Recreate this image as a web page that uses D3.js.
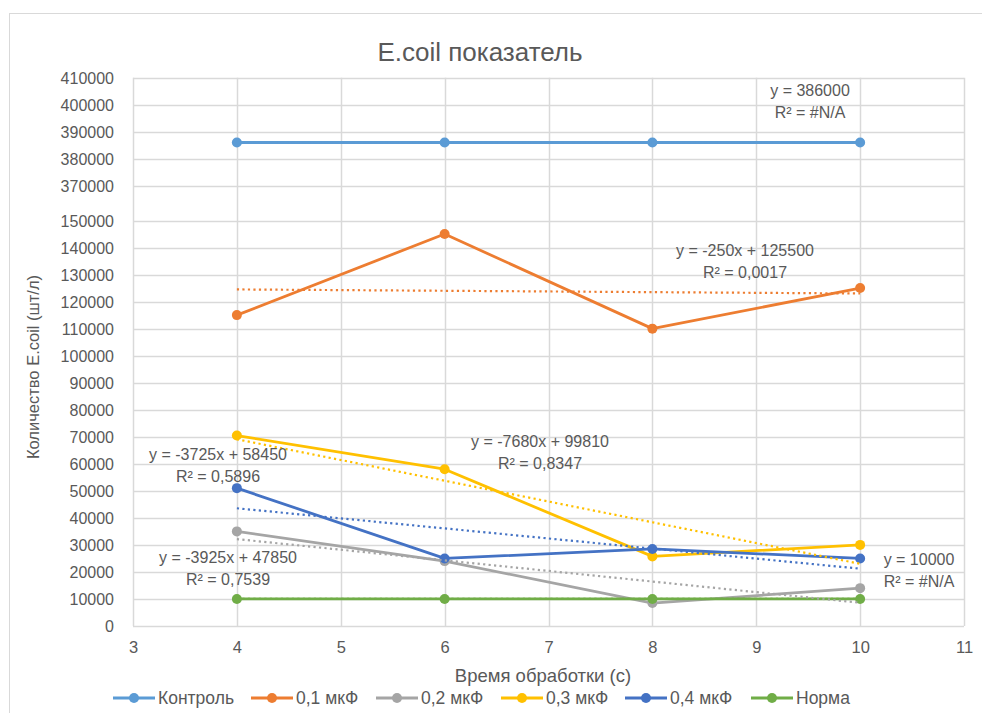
<!DOCTYPE html>
<html><head><meta charset="utf-8">
<script src="https://cdn.jsdelivr.net/npm/d3@7"></script>
<style>
html,body{margin:0;padding:0;background:#fff;}
svg{display:block;}
text{font-family:"Liberation Sans",Arial,sans-serif;fill:#595959;}
</style></head>
<body>
<svg id="chart" width="982" height="713"></svg>
<script>
// ---- data ----
const xValues = [4, 6, 8, 10];
const seriesNames = ["Контроль", "0,1 мкФ", "0,2 мкФ", "0,3 мкФ", "0,4 мкФ", "Норма"];
const kontrol = [386000, 386000, 386000, 386000];
const mkf01 = [115000, 145000, 110000, 125000];
const mkf02 = [35000, 24000, 8500, 14000];
const mkf03 = [70450, 58000, 25750, 30000];
const mkf04 = [51000, 25000, 28500, 25000];
const norma = [10000, 10000, 10000, 10000];
const seriesValues = [kontrol, mkf01, mkf02, mkf03, mkf04, norma];
const seriesColors = ["#5B9BD5", "#ED7D31", "#A5A5A5", "#FFC000", "#4472C4", "#70AD47"];
const trendSlope = [0, -250, -3925, -7680, -3725, 0];
const trendIntercept = [386000, 125500, 47850, 99810, 58450, 10000];
const trendEq = ["y = 386000", "y = -250x + 125500", "y = -3925x + 47850", "y = -7680x + 99810", "y = -3725x + 58450", "y = 10000"];
const trendR2 = ["R² = #N/A", "R² = 0,0017", "R² = 0,7539", "R² = 0,8347", "R² = 0,5896", "R² = #N/A"];
const xTicks = [3, 4, 5, 6, 7, 8, 9, 10, 11];
const yTicks = [0, 10000, 20000, 30000, 40000, 50000, 60000, 70000, 80000, 90000, 100000, 110000, 120000, 130000, 140000, 150000, 370000, 380000, 390000, 400000, 410000];
const title = "E.coil показатель";
const xTitle = "Время обработки (с)";
const yTitle = "Количество E.coil (шт/л)";

// ---- layout ----
const plot = {left: 133, right: 964, top: 77.7, bottom: 626};
const labelPos = [[810, 90], [745, 250], [228, 557], [540, 441], [218, 454], [919, 559]];
const legendX = [113, 251, 376, 501, 625, 751];

const svg = d3.select("#chart");
svg.append("rect").attr("x", 9.5).attr("y", 13.5).attr("width", 990).attr("height", 720)
  .attr("fill", "#fff").attr("stroke", "#d9d9d9").attr("stroke-width", 1);

const x = d3.scaleLinear().domain([3, 11]).range([plot.left, plot.right]);
const y = d3.scaleLinear().domain([0, 150000, 370000, 410000]).range([plot.bottom, 220.5, 185.7, plot.top]);

// grid
const g = svg.append("g");
g.selectAll(".hg").data(yTicks).join("line")
  .attr("x1", plot.left).attr("x2", plot.right)
  .attr("y1", d => Math.round(y(d)) + 0.5).attr("y2", d => Math.round(y(d)) + 0.5)
  .attr("stroke", "#d9d9d9").attr("stroke-width", 1.5);
g.selectAll(".vg").data(xTicks).join("line")
  .attr("y1", plot.top).attr("y2", plot.bottom)
  .attr("x1", d => Math.round(x(d)) + 0.5).attr("x2", d => Math.round(x(d)) + 0.5)
  .attr("stroke", "#d9d9d9").attr("stroke-width", 1.5);

// axes (labels only, via d3 axis)
const yAxis = svg.append("g").attr("transform", `translate(${plot.left - 19},0)`)
  .call(d3.axisLeft(y).tickValues(yTicks).tickSize(0).tickPadding(0).tickFormat(d3.format("d")));
yAxis.select(".domain").remove();
yAxis.selectAll("text").style("font-size", "16px").attr("fill", "#595959").attr("dy", "0.36em");

const xAxis = svg.append("g").attr("transform", `translate(0,${plot.bottom + 15})`)
  .call(d3.axisBottom(x).tickValues(xTicks).tickSize(0).tickPadding(0).tickFormat(d3.format("d")));
xAxis.select(".domain").remove();
xAxis.selectAll("text").style("font-size", "16.5px").attr("fill", "#595959").attr("dy", "0.71em");

// series
const line = d3.line().x((d, i) => x(xValues[i])).y(d => y(d));
seriesValues.forEach((vals, s) => {
  svg.append("path").datum(vals).attr("d", line)
    .attr("fill", "none").attr("stroke", seriesColors[s]).attr("stroke-width", 2.8)
    .attr("stroke-linejoin", "round");
  svg.selectAll(null).data(vals).join("circle")
    .attr("cx", (d, i) => x(xValues[i])).attr("cy", d => y(d)).attr("r", 5)
    .attr("fill", seriesColors[s]);
});

// trendlines
seriesValues.forEach((vals, s) => {
  const x0 = xValues[0], x1 = xValues[xValues.length - 1];
  svg.append("line")
    .attr("x1", x(x0)).attr("x2", x(x1))
    .attr("y1", y(trendSlope[s] * x0 + trendIntercept[s]))
    .attr("y2", y(trendSlope[s] * x1 + trendIntercept[s]))
    .attr("stroke", seriesColors[s]).attr("stroke-width", 2.2)
    .attr("stroke-dasharray", "2.2,3.3");
});

// trend labels
trendEq.forEach((t, s) => {
  const [cx, cy] = labelPos[s];
  svg.append("text").attr("x", cx).attr("y", cy).attr("dy", "0.35em")
    .attr("text-anchor", "middle").style("font-size", "16px").text(t);
  svg.append("text").attr("x", cx).attr("y", cy + 22.5).attr("dy", "0.35em")
    .attr("text-anchor", "middle").style("font-size", "16px").text(trendR2[s]);
});

// titles
svg.append("text").attr("x", 480).attr("y", 52).attr("dy", "0.35em").attr("text-anchor", "middle")
  .style("font-size", "26px").text(title);
svg.append("text").attr("x", 543).attr("y", 676).attr("dy", "0.35em").attr("text-anchor", "middle")
  .style("font-size", "18.5px").text(xTitle);
svg.append("text").attr("transform", "translate(33,367) rotate(-90)").attr("dy", "0.35em")
  .attr("text-anchor", "middle").style("font-size", "16.5px").text(yTitle);

// legend
seriesNames.forEach((n, s) => {
  const lx = legendX[s], ly = 698;
  svg.append("line").attr("x1", lx).attr("x2", lx + 42).attr("y1", ly).attr("y2", ly)
    .attr("stroke", seriesColors[s]).attr("stroke-width", 2.8);
  svg.append("circle").attr("cx", lx + 21).attr("cy", ly).attr("r", 5).attr("fill", seriesColors[s]);
  svg.append("text").attr("x", lx + 45).attr("y", ly).attr("dy", "0.35em").style("font-size", "17.5px").text(n);
});
</script>
</body></html>
